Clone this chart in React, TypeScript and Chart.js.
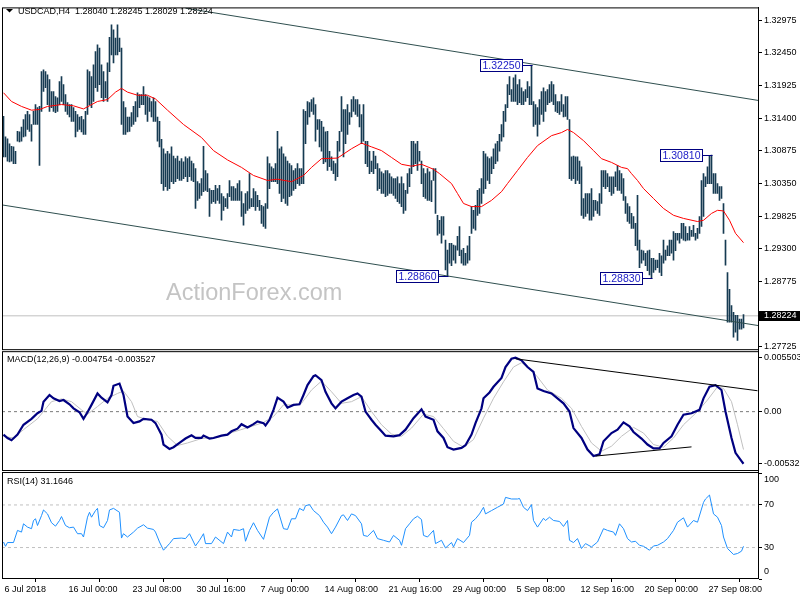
import React, { useEffect, useRef } from 'react';
import { Chart, registerables } from 'chart.js';

Chart.register(...registerables);

const FONT = '"Liberation Sans", Arial, sans-serif';

const symbolTitle = 'USDCAD,H4  1.28040 1.28245 1.28029 1.28224';
const macdTitle = 'MACD(12,26,9) -0.004754 -0.003527';
const rsiTitle = 'RSI(14) 31.1646';
const watermark = 'ActionForex.com';

// bar index of each time label (H4 bars)
const xTickIdx = [0, 32, 64, 96, 128, 160, 192, 224, 256, 288, 320, 352];
const xTickLabels = ['6 Jul 2018', '16 Jul 00:00', '23 Jul 08:00', '30 Jul 16:00', '7 Aug 00:00', '14 Aug 08:00', '21 Aug 16:00', '29 Aug 00:00', '5 Sep 08:00', '12 Sep 16:00', '20 Sep 00:00', '27 Sep 08:00'];

const priceTicks = [1.32975, 1.3245, 1.31925, 1.314, 1.30875, 1.3035, 1.29825, 1.293, 1.28775, 1.27725];
const macdTicks = [0.005503, 0, -0.005326];
const macdTickLabels = ['0.005503', '0.00', '-0.005326'];
const rsiTicks = [100, 70, 30, 0];

const highs = [
  1.3143, 1.3110, 1.3107, 1.3099, 1.3095, 1.3094, 1.3087, 1.3119, 1.3118, 1.3126,
  1.3138, 1.3146, 1.3151, 1.3146, 1.3130, 1.3151, 1.3162, 1.3157, 1.3159, 1.3215,
  1.3218, 1.3215, 1.3210, 1.3202, 1.3183, 1.3183, 1.3175, 1.3173, 1.3199, 1.3207,
  1.3194, 1.3178, 1.3165, 1.3162, 1.3162, 1.3157, 1.3151, 1.3146, 1.3142, 1.3143,
  1.3138, 1.3151, 1.3218, 1.3215, 1.3207, 1.3226, 1.3247, 1.3258, 1.3253, 1.3226,
  1.3215, 1.3199, 1.3229, 1.3270, 1.3290, 1.3282, 1.3269, 1.3290, 1.3269, 1.3253,
  1.3167, 1.3157, 1.3142, 1.3142, 1.3149, 1.3159, 1.3167, 1.3181, 1.3178, 1.3178,
  1.3191, 1.3178, 1.3175, 1.3173, 1.3167, 1.3173, 1.3167, 1.3142, 1.3135, 1.3106,
  1.3091, 1.3083, 1.3087, 1.3083, 1.3094, 1.3079, 1.3075, 1.3079, 1.3071, 1.3075,
  1.3070, 1.3078, 1.3075, 1.3078, 1.3071, 1.3067, 1.3059, 1.3038, 1.3035, 1.3043,
  1.3095, 1.3056, 1.3051, 1.3027, 1.3024, 1.3024, 1.3032, 1.3027, 1.3032, 1.3019,
  1.3014, 1.3011, 1.3019, 1.3040, 1.3030, 1.3030, 1.3027, 1.3035, 1.3040, 1.3022,
  1.3003, 1.3019, 1.3022, 1.3051, 1.3011, 1.3027, 1.3022, 1.3016, 1.3008, 1.3000,
  1.2998, 1.3003, 1.3078, 1.3067, 1.3062, 1.3059, 1.3067, 1.3119, 1.3091, 1.3094,
  1.3083, 1.3078, 1.3071, 1.3067, 1.3064, 1.3056, 1.3059, 1.3067, 1.3059, 1.3059,
  1.3154, 1.3151, 1.3167, 1.3165, 1.3170, 1.3173, 1.3162, 1.3138, 1.3138, 1.3135,
  1.3126, 1.3118, 1.3119, 1.3087, 1.3078, 1.3071, 1.3067, 1.3103, 1.3119, 1.3175,
  1.3154, 1.3154, 1.3162, 1.3149, 1.3170, 1.3175, 1.3170, 1.3170, 1.3162, 1.3146,
  1.3162, 1.3103, 1.3103, 1.3087, 1.3071, 1.3087, 1.3079, 1.3067, 1.3059, 1.3054,
  1.3051, 1.3056, 1.3056, 1.3051, 1.3046, 1.3043, 1.3043, 1.3046, 1.3035, 1.3046,
  1.3035, 1.3024, 1.3051, 1.3059, 1.3103, 1.3103, 1.3099, 1.3103, 1.3087, 1.3071,
  1.3059, 1.3051, 1.3059, 1.3054, 1.3040, 1.3059, 1.3059, 1.2984, 1.2976, 1.2982,
  1.2982, 1.2944, 1.2928, 1.2939, 1.2939, 1.2936, 1.2935, 1.2950, 1.2966, 1.2928,
  1.2931, 1.2923, 1.2935, 1.2950, 1.2998, 1.2992, 1.3000, 1.3024, 1.3027, 1.3043,
  1.3087, 1.3083, 1.3078, 1.3075, 1.3078, 1.3091, 1.3099, 1.3103, 1.3114, 1.3130,
  1.3151, 1.3162, 1.3194, 1.3207, 1.3186, 1.3205, 1.3210, 1.3194, 1.3202, 1.3189,
  1.3183, 1.3186, 1.3199, 1.3191, 1.3225, 1.3167, 1.3162, 1.3157, 1.3170, 1.3183,
  1.3189, 1.3183, 1.3186, 1.3194, 1.3199, 1.3194, 1.3178, 1.3167, 1.3167, 1.3178,
  1.3162, 1.3175, 1.3175, 1.3138, 1.3078, 1.3079, 1.3078, 1.3078, 1.3071, 1.3062,
  1.3011, 1.3019, 1.3019, 1.3019, 1.3027, 1.3008, 1.3008, 1.3006, 1.3019, 1.3056,
  1.3056, 1.3056, 1.3051, 1.3046, 1.3046, 1.3046, 1.3054, 1.3064, 1.3056, 1.3051,
  1.3043, 1.3014, 1.3003, 1.2998, 1.2987, 1.2982, 1.2971, 1.3016, 1.2944, 1.2928,
  1.2927, 1.2923, 1.2927, 1.2928, 1.2915, 1.2915, 1.2912, 1.2912, 1.2923, 1.2919,
  1.2944, 1.2928, 1.2935, 1.2944, 1.2944, 1.2958, 1.2955, 1.2955, 1.2955, 1.2971,
  1.2971, 1.2966, 1.2955, 1.2966, 1.2960, 1.2968, 1.2955, 1.2963, 1.2982, 1.3040,
  1.3051, 1.3046, 1.3062, 1.3079, 1.3081, 1.3051, 1.3051, 1.3035, 1.3030, 1.3030,
  1.3003, 1.2944, 1.2892, 1.2865, 1.2839, 1.2828, 1.2823, 1.2823, 1.2817, 1.2817, 1.28245,
];

const lows = [
  1.3078, 1.3078, 1.3071, 1.3070, 1.3071, 1.3067, 1.3067, 1.3103, 1.3102, 1.3103,
  1.3110, 1.3111, 1.3122, 1.3119, 1.3103, 1.3130, 1.3130, 1.3130, 1.3064, 1.3151,
  1.3183, 1.3189, 1.3162, 1.3151, 1.3157, 1.3151, 1.3149, 1.3151, 1.3162, 1.3167,
  1.3162, 1.3151, 1.3146, 1.3142, 1.3135, 1.3135, 1.3110, 1.3119, 1.3122, 1.3118,
  1.3114, 1.3114, 1.3146, 1.3162, 1.3157, 1.3167, 1.3189, 1.3183, 1.3194, 1.3173,
  1.3167, 1.3173, 1.3167, 1.3215, 1.3242, 1.3229, 1.3242, 1.3242, 1.3247, 1.3130,
  1.3114, 1.3114, 1.3118, 1.3119, 1.3127, 1.3130, 1.3135, 1.3142, 1.3157, 1.3162,
  1.3162, 1.3146, 1.3135, 1.3151, 1.3142, 1.3135, 1.3135, 1.3103, 1.3094, 1.3035,
  1.3024, 1.3030, 1.3024, 1.3027, 1.3038, 1.3035, 1.3038, 1.3043, 1.3040, 1.3040,
  1.3043, 1.3046, 1.3038, 1.3046, 1.3040, 1.3038, 1.2995, 1.3008, 1.3011, 1.3016,
  1.3022, 1.3024, 1.3022, 1.2982, 1.3003, 1.3006, 1.3003, 1.3008, 1.3003, 1.2976,
  1.2992, 1.2998, 1.2995, 1.3014, 1.3008, 1.3008, 1.3008, 1.3008, 1.3008, 1.2982,
  1.2968, 1.2987, 1.2992, 1.2995, 1.2998, 1.2998, 1.2992, 1.2998, 1.2992, 1.2971,
  1.2966, 1.2963, 1.2995, 1.3027, 1.3038, 1.3038, 1.3038, 1.3035, 1.3019, 1.3006,
  1.3011, 1.3003, 1.3000, 1.3014, 1.3016, 1.3024, 1.3027, 1.3035, 1.3032, 1.3035,
  1.3035, 1.3099, 1.3130, 1.3142, 1.3151, 1.3146, 1.3103, 1.3122, 1.3094, 1.3087,
  1.3067, 1.3070, 1.3056, 1.3062, 1.3056, 1.3051, 1.3040, 1.3046, 1.3087, 1.3119,
  1.3078, 1.3099, 1.3114, 1.3130, 1.3142, 1.3151, 1.3146, 1.3143, 1.3126, 1.3099,
  1.3103, 1.3067, 1.3062, 1.3051, 1.3054, 1.3051, 1.3059, 1.3024, 1.3027, 1.3019,
  1.3019, 1.3014, 1.3016, 1.3019, 1.3019, 1.3016, 1.3011, 1.3006, 1.3003, 1.2998,
  1.2987, 1.2992, 1.3019, 1.3030, 1.3051, 1.3062, 1.3067, 1.3056, 1.3071, 1.3035,
  1.3014, 1.3011, 1.3008, 1.3008, 1.3006, 1.3040, 1.2987, 1.2952, 1.2955, 1.2939,
  1.2952, 1.2896, 1.2886, 1.2907, 1.2903, 1.2912, 1.2907, 1.2928, 1.2919, 1.2907,
  1.2904, 1.2904, 1.2907, 1.2912, 1.2955, 1.2963, 1.2960, 1.2984, 1.2987, 1.3003,
  1.3019, 1.3027, 1.3040, 1.3035, 1.3051, 1.3059, 1.3067, 1.3071, 1.3087, 1.3103,
  1.3110, 1.3135, 1.3157, 1.3178, 1.3167, 1.3167, 1.3167, 1.3162, 1.3165, 1.3162,
  1.3162, 1.3167, 1.3173, 1.3162, 1.3162, 1.3127, 1.3130, 1.3111, 1.3130, 1.3146,
  1.3135, 1.3151, 1.3162, 1.3165, 1.3167, 1.3162, 1.3151, 1.3149, 1.3146, 1.3151,
  1.3142, 1.3143, 1.3138, 1.3043, 1.3040, 1.3043, 1.3035, 1.3040, 1.3035, 1.2984,
  1.2979, 1.2982, 1.2987, 1.2976, 1.2976, 1.2982, 1.2992, 1.2987, 1.2984, 1.3003,
  1.3030, 1.3027, 1.3030, 1.3022, 1.3016, 1.3019, 1.3030, 1.3024, 1.3024, 1.3019,
  1.3008, 1.2987, 1.2974, 1.2971, 1.2963, 1.2963, 1.2935, 1.2928, 1.2900, 1.2907,
  1.2912, 1.2903, 1.2895, 1.2888, 1.2883, 1.2892, 1.2896, 1.2900, 1.2892, 1.2887,
  1.2907, 1.2912, 1.2919, 1.2919, 1.2923, 1.2912, 1.2927, 1.2944, 1.2939, 1.2947,
  1.2944, 1.2943, 1.2944, 1.2944, 1.2950, 1.2950, 1.2944, 1.2947, 1.2955, 1.2966,
  1.2982, 1.3030, 1.3035, 1.3035, 1.3035, 1.3019, 1.3019, 1.3019, 1.3008, 1.3011,
  1.2955, 1.2904, 1.2812, 1.2812, 1.2812, 1.2788, 1.2796, 1.2783, 1.2801, 1.2801, 1.28029,
];

const lastClose = 1.28224;

// moving average (red), [bar index, price]
const ma = [
  [0, 1.3181], [4, 1.3167], [9, 1.3159], [14, 1.3153], [18, 1.3154], [22, 1.3159], [29, 1.3162], [35, 1.3160],
  [40, 1.3155], [47, 1.3167], [52, 1.3170], [56, 1.3182], [59, 1.3188], [62, 1.3182], [67, 1.3177], [72, 1.3177],
  [76, 1.3171], [82, 1.3153], [90, 1.3130], [99, 1.3109], [105, 1.3088], [112, 1.3073], [119, 1.3061], [125, 1.3048],
  [132, 1.3040], [137, 1.3042], [144, 1.3038], [150, 1.3048], [154, 1.3061], [159, 1.3075], [167, 1.3076], [174, 1.3091],
  [179, 1.3100], [184, 1.3094], [189, 1.3088], [194, 1.3077], [199, 1.3066], [204, 1.3063], [209, 1.3066], [215, 1.3058],
  [218, 1.3051], [224, 1.3035], [227, 1.3019], [230, 1.3003], [234, 1.2998], [239, 1.2998], [244, 1.3008], [249, 1.3022],
  [252, 1.3035], [257, 1.3056], [262, 1.3077], [267, 1.3096], [274, 1.3112], [279, 1.3117], [282, 1.3122], [285, 1.3117],
  [290, 1.3104], [295, 1.3088], [299, 1.3075], [304, 1.3069], [309, 1.3061], [312, 1.3059], [314, 1.3051], [317, 1.3040],
  [320, 1.3027], [325, 1.3011], [330, 1.2995], [335, 1.2984], [340, 1.2979], [347, 1.2974], [350, 1.2976], [354, 1.2987],
  [357, 1.2992], [360, 1.2991], [363, 1.2976], [366, 1.2955], [370, 1.2940],
];

const upperChannel = [[91, 1.33169], [377.25, 1.31687]];
const lowerChannel = [[-0.75, 1.30007], [377.25, 1.28068]];

const swingLabels = [
  { i: 264, price: 1.3225, text: '1.32250' },
  { i: 222, price: 1.2886, text: '1.28860' },
  { i: 324, price: 1.2883, text: '1.28830' },
  { i: 354, price: 1.3081, text: '1.30810' },
];

const macdLine = [
  [0, -0.00235], [2, -0.00269], [4, -0.00292], [7, -0.00235], [10, -0.00134], [14, -0.00073], [17, -0.00016], [19, 0.00008],
  [20, 0.00102], [23, 0.0017], [25, 0.00136], [28, 0.00109], [30, 0.00119], [33, 0.00075], [35, 0.00034], [38, -0.00006],
  [40, -0.00073], [42, -0.00006], [44, 0.00069], [47, 0.00186], [49, 0.00143], [52, 0.00095], [54, 0.0017], [55, 0.00264],
  [58, 0.00287], [60, 0.0017], [62, -0.0005], [65, -0.00117], [68, -0.001], [70, -0.00073], [74, -0.00083], [76, -0.00117],
  [79, -0.00235], [80, -0.00336], [83, -0.00381], [85, -0.00363], [89, -0.00303], [91, -0.00275], [94, -0.00242], [96, -0.00269],
  [99, -0.00269], [100, -0.00245], [103, -0.00275], [105, -0.00269], [109, -0.00245], [112, -0.00235], [114, -0.00201], [117, -0.00174],
  [119, -0.00128], [122, -0.00161], [125, -0.00128], [127, -0.001], [130, -0.00117], [131, -0.00141], [133, -0.00083], [135, 0.00018],
  [137, 0.00143], [140, 0.00102], [142, 0.00041], [145, 0.00069], [148, 0.00075], [150, 0.0017], [152, 0.00271], [155, 0.00362],
  [156, 0.00372], [159, 0.00322], [161, 0.00203], [164, 0.00085], [166, 0.00034], [169, 0.00102], [172, 0.00136], [175, 0.0017],
  [177, 0.00186], [179, 0.00153], [181, 0.00001], [184, -0.00083], [186, -0.00134], [189, -0.00201], [191, -0.00245], [195, -0.00252],
  [198, -0.0024], [201, -0.00184], [205, -0.00067], [209, 0.00024], [211, -0.0005], [215, -0.00083], [217, -0.00201], [220, -0.00269],
  [222, -0.00363], [225, -0.00387], [229, -0.0037], [231, -0.00343], [234, -0.00235], [236, -0.00117], [239, 0.00034], [240, 0.00136],
  [243, 0.00196], [245, 0.00254], [249, 0.00345], [251, 0.00456], [254, 0.0054], [256, 0.005503], [259, 0.00524], [262, 0.00456],
  [265, 0.00406], [267, 0.00237], [270, 0.0021], [274, 0.00186], [277, 0.00136], [280, 0.00085], [283, 0.00001], [285, -0.00168],
  [289, -0.00269], [292, -0.00387], [295, -0.00454], [298, -0.00437], [300, -0.00303], [304, -0.00219], [307, -0.00184], [310, -0.0011],
  [313, -0.00151], [315, -0.00208], [319, -0.00275], [322, -0.00336], [325, -0.00376], [328, -0.00376], [330, -0.0032], [334, -0.00252],
  [337, -0.00134], [340, -0.00032], [344, -0.00016], [348, 0.00018], [350, 0.00136], [353, 0.00254], [356, 0.00271], [359, 0.00221],
  [361, 0.00001], [364, -0.00269], [366, -0.00421], [369, -0.00505], [370, -0.005326],
];

const signalLine = [
  [0, -0.00252], [5, -0.00269], [10, -0.00184], [17, -0.00073], [24, 0.00102], [29, 0.0013], [34, 0.00102], [39, 0.00018],
  [42, -0.00026], [47, 0.00052], [52, 0.00136], [57, 0.00186], [60, 0.0021], [64, 0.00102], [67, -0.0005], [72, -0.00083],
  [77, -0.001], [82, -0.00252], [87, -0.00346], [92, -0.0032], [99, -0.00275], [107, -0.00262], [115, -0.00208], [124, -0.00151],
  [130, -0.0011], [135, -0.0005], [140, 0.00069], [145, 0.00069], [149, 0.00085], [154, 0.00221], [159, 0.00312], [164, 0.00203],
  [169, 0.00085], [174, 0.00102], [179, 0.00153], [184, 0.00001], [189, -0.00134], [194, -0.00229], [199, -0.00252], [204, -0.00168],
  [210, -0.00026], [215, -0.0005], [220, -0.00174], [225, -0.00303], [230, -0.00363], [235, -0.00285], [240, -0.00067], [245, 0.00136],
  [250, 0.00305], [255, 0.00456], [259, 0.005], [263, 0.00439], [267, 0.00355], [272, 0.00221], [279, 0.00136], [284, 0.00034],
  [289, -0.00151], [294, -0.0032], [299, -0.00404], [304, -0.00353], [309, -0.00252], [315, -0.00161], [320, -0.00219], [325, -0.00336],
  [330, -0.00363], [335, -0.00269], [340, -0.00134], [347, 0.00001], [352, 0.00119], [357, 0.00254], [360, 0.00237], [364, 0.00102],
  [367, -0.00134], [370, -0.00387],
];

const macdTrendUpper = [[256, 0.0054], [377, 0.002135]];
const macdTrendLower = [[296, -0.00454], [344, -0.0036]];
const macdLevels = [0];

const rsi = [
  [0, 35.2], [1, 31.2], [2, 34.7], [5, 34.7], [7, 46.1], [9, 44.5], [10, 52.3], [12, 49.2], [14, 47.7], [15, 55.4],
  [16, 57.0], [17, 50.7], [19, 60.0], [20, 65.3], [22, 61.6], [24, 53.3], [26, 50.1], [28, 55.4], [29, 59.1], [31, 50.7],
  [33, 48.6], [35, 49.2], [37, 43.0], [39, 43.0], [40, 39.9], [42, 58.5], [43, 63.1], [44, 58.5], [46, 64.7], [47, 66.8],
  [48, 50.7], [50, 48.6], [52, 55.4], [53, 65.3], [55, 66.8], [58, 63.1], [59, 38.9], [60, 43.0], [62, 39.9], [65, 44.5],
  [67, 48.2], [70, 51.4], [72, 48.2], [75, 47.0], [76, 44.5], [78, 35.2], [80, 27.5], [83, 33.7], [85, 38.4], [89, 38.9],
  [91, 38.4], [93, 43.0], [96, 31.5], [98, 36.8], [100, 43.0], [101, 33.7], [104, 33.7], [106, 39.9], [110, 33.7], [112, 44.5],
  [114, 39.9], [115, 47.0], [118, 46.1], [120, 47.7], [121, 35.9], [123, 46.1], [125, 53.3], [127, 46.1], [130, 37.7], [133, 58.5],
  [135, 63.1], [137, 66.3], [140, 47.7], [142, 47.0], [144, 57.0], [146, 57.0], [148, 66.8], [150, 64.7], [151, 69.3], [153, 70.3],
  [155, 64.7], [158, 60.0], [160, 53.8], [162, 49.2], [164, 43.0], [166, 49.2], [169, 60.0], [170, 60.7], [172, 55.4], [174, 61.6],
  [176, 60.0], [179, 52.3], [180, 41.4], [182, 40.5], [185, 46.1], [187, 38.4], [190, 36.8], [193, 35.2], [195, 41.4], [198, 36.8],
  [199, 32.1], [201, 47.7], [203, 52.3], [205, 57.0], [207, 59.4], [209, 56.3], [210, 41.4], [212, 39.9], [215, 46.1], [216, 33.7],
  [219, 36.8], [221, 29.6], [224, 34.7], [225, 30.6], [227, 38.4], [230, 34.7], [233, 41.4], [234, 53.8], [236, 57.0], [238, 61.6],
  [240, 67.8], [241, 61.6], [244, 64.7], [247, 67.8], [250, 70.9], [251, 77.1], [254, 75.6], [257, 75.6], [258, 76.1], [260, 67.8],
  [262, 64.7], [264, 70.3], [265, 55.4], [267, 49.2], [270, 57.5], [271, 55.4], [273, 58.5], [275, 55.4], [278, 54.5], [280, 49.8],
  [282, 55.4], [283, 36.8], [285, 34.7], [287, 38.4], [289, 29.1], [291, 33.7], [294, 30.6], [297, 35.2], [300, 47.7], [302, 46.1],
  [305, 44.5], [306, 41.4], [308, 52.3], [310, 47.7], [312, 38.4], [314, 35.2], [316, 35.9], [318, 32.1], [320, 31.2], [323, 27.5],
  [325, 31.5], [327, 32.1], [330, 35.2], [332, 38.4], [335, 46.1], [337, 53.8], [340, 57.9], [342, 49.2], [345, 55.4], [347, 53.8],
  [350, 72.4], [351, 75.6], [353, 79.3], [355, 61.6], [357, 58.5], [359, 50.7], [360, 39.9], [362, 29.1], [365, 23.5], [367, 24.4],
  [369, 26.6], [370, 31.16],
];
const rsiLevels = [70, 30];

// view window (bar index range) and pane ranges
const X_MIN = -0.75;
const X_MAX = 377.25;
const PRICE_RANGE = [1.27688, 1.33182];
const MACD_RANGE = [-0.005964, 0.006383];
const RSI_RANGE = [1.4, 102.8];

const pts = (arr: number[][]) => arr.map(([x, y]) => ({ x, y }));
const hline = (v: number) => [{ x: X_MIN, y: v }, { x: X_MAX, y: v }];

const mtPlugin = {
  id: 'mtDecor',
  beforeDatasetsDraw(chart: any) {
    const ctx = chart.ctx;
    ctx.save();
    ctx.font = `23.5px ${FONT}`;
    ctx.fillStyle = '#c4c4c4';
    ctx.textAlign = 'left';
    ctx.textBaseline = 'alphabetic';
    ctx.fillText(watermark, 166, 300);
    ctx.restore();
  },
  afterDatasetsDraw(chart: any) {
    const ctx = chart.ctx;
    const xs = chart.scales.x;
    const ys = chart.scales.y;
    ctx.save();
    ctx.font = `10.5px ${FONT}`;
    swingLabels.forEach((l) => {
      const bx = Math.round(xs.getPixelForValue(l.i));
      const cy = Math.round(ys.getPixelForValue(l.price));
      const boxR = bx - 10;
      const boxL = boxR - 42;
      const boxT = cy - 6;
      ctx.fillStyle = '#ffffff';
      ctx.fillRect(boxL, boxT, 42, 12);
      ctx.strokeStyle = '#000080';
      ctx.lineWidth = 1;
      ctx.strokeRect(boxL + 0.5, boxT + 0.5, 42, 12);
      ctx.beginPath();
      ctx.moveTo(boxR + 0.5, cy + 0.5);
      ctx.lineTo(bx + 0.5, cy + 0.5);
      ctx.stroke();
      ctx.fillStyle = '#2020c8';
      ctx.textAlign = 'center';
      ctx.textBaseline = 'middle';
      ctx.fillText(l.text, boxL + 21.5, cy + 1);
    });
    ctx.restore();
  },
  afterDraw(chart: any) {
    const ctx = chart.ctx;
    const { left: L, right: R } = chart.chartArea;
    const ys = chart.scales.y;
    const ym = chart.scales.yMacd;
    const yr = chart.scales.yRsi;
    ctx.save();
    // pane frames
    ctx.strokeStyle = '#000000';
    ctx.lineWidth = 1;
    [ys, ym, yr].forEach((s: any, k: number) => {
      const top = s.top + (k > 0 ? 2 : 0);
      ctx.strokeRect(L + 0.5, top + 0.5, R - L, s.bottom - top);
    });
    // titles
    ctx.fillStyle = '#000000';
    ctx.beginPath();
    ctx.moveTo(6, 9);
    ctx.lineTo(13, 9);
    ctx.lineTo(9.5, 12.5);
    ctx.closePath();
    ctx.fill();
    ctx.font = `9px ${FONT}`;
    ctx.textAlign = 'left';
    ctx.textBaseline = 'alphabetic';
    ctx.fillText(symbolTitle, 18, 14);
    ctx.fillText(macdTitle, 7, 362);
    ctx.fillText(rsiTitle, 7, 484);
    // RSI axis labels (MT4 keeps the end labels inside the pane)
    ctx.textBaseline = 'middle';
    rsiTicks.forEach((v) => {
      let y = yr.getPixelForValue(v);
      y = Math.max(yr.top + 9, Math.min(yr.bottom - 6, y));
      ctx.fillText(String(v), R + 6, y);
    });
    // current price box
    const cy = Math.round(ys.getPixelForValue(lastClose));
    ctx.fillRect(R, cy - 5, chart.width - R, 10);
    ctx.fillStyle = '#ffffff';
    ctx.fillText(lastClose.toFixed(5), R + 6, cy);
    ctx.restore();
  },
};

const yAxisBase = (weight: number, range: number[]) => ({
  type: 'linear' as const,
  position: 'right' as const,
  stack: 'panes',
  stackWeight: weight,
  min: range[0],
  max: range[1],
  afterFit: (s: any) => {
    s.width = 42;
  },
  grid: { drawOnChartArea: false, drawTicks: true, tickLength: 4, color: '#000000' },
  border: { display: true, color: '#000000', width: 1 },
});

export default function App() {
  const ref = useRef<HTMLCanvasElement | null>(null);

  useEffect(() => {
    if (!ref.current) return;
    const tickFont = { family: FONT, size: 9 };
    const lineDs = (data: any[], color: string, width: number, axis: string, order: number, extra: any = {}) => ({
      type: 'line' as const,
      data,
      borderColor: color,
      borderWidth: width,
      pointRadius: 0,
      tension: 0,
      fill: false,
      yAxisID: axis,
      order,
      ...extra,
    });

    const chart = new Chart(ref.current, {
      type: 'bar',
      data: {
        datasets: [
          lineDs(hline(lastClose), '#c0c0c0', 1, 'y', 20),
          {
            type: 'bar',
            data: highs.map((h, i) => ({ x: i, y: [lows[i], h] })),
            backgroundColor: '#163b52',
            borderWidth: 0,
            barThickness: 1,
            grouped: false,
            yAxisID: 'y',
            order: 10,
          } as any,
          lineDs(pts(ma), '#ff0000', 1, 'y', 8),
          lineDs(pts(upperChannel), '#2f4f4f', 1, 'y', 7),
          lineDs(pts(lowerChannel), '#2f4f4f', 1, 'y', 7),
          ...macdLevels.map((v) => lineDs(hline(v), '#7a7a7a', 1, 'yMacd', 15, { borderDash: [3, 3] })),
          lineDs(pts(signalLine), '#c0c0c0', 1, 'yMacd', 6),
          lineDs(pts(macdLine), '#000080', 2.2, 'yMacd', 5),
          lineDs(pts(macdTrendUpper), '#000000', 1, 'yMacd', 4),
          lineDs(pts(macdTrendLower), '#000000', 1, 'yMacd', 4),
          ...rsiLevels.map((v) => lineDs(hline(v), '#c0c0c0', 1, 'yRsi', 15, { borderDash: [3, 3] })),
          lineDs(pts(rsi), '#1e90ff', 1, 'yRsi', 3),
        ] as any,
      },
      options: {
        responsive: false,
        animation: false,
        devicePixelRatio: 1,
        events: [],
        layout: { padding: { left: 2, top: 2, right: 0, bottom: 0 } },
        plugins: { legend: { display: false }, tooltip: { enabled: false } },
        scales: {
          x: {
            type: 'linear',
            position: 'bottom',
            min: X_MIN,
            max: X_MAX,
            offset: false,
            afterFit: (s: any) => {
              s.height = 22;
            },
            afterBuildTicks: (s: any) => {
              s.ticks = xTickIdx.map((v) => ({ value: v }));
            },
            ticks: {
              autoSkip: false,
              maxRotation: 0,
              minRotation: 0,
              align: 'start',
              labelOffset: 1,
              padding: 2,
              color: '#000000',
              font: tickFont,
              callback: (v: any) => {
                const k = xTickIdx.indexOf(Number(v));
                return k >= 0 ? xTickLabels[k] : '';
              },
            },
            grid: { drawOnChartArea: false, drawTicks: true, tickLength: 4, color: '#000000' },
            border: { display: true, color: '#000000' },
          },
          y: {
            ...yAxisBase(345, PRICE_RANGE),
            afterBuildTicks: (s: any) => {
              s.ticks = priceTicks.map((v) => ({ value: v }));
            },
            ticks: {
              autoSkip: false,
              padding: 2,
              color: '#000000',
              font: tickFont,
              callback: (v: any) => Number(v).toFixed(5),
            },
          },
          yMacd: {
            ...yAxisBase(122, MACD_RANGE),
            afterBuildTicks: (s: any) => {
              s.ticks = macdTicks.map((v) => ({ value: v }));
            },
            ticks: {
              autoSkip: false,
              padding: 2,
              color: '#000000',
              font: tickFont,
              callback: (v: any) => {
                const k = macdTicks.indexOf(Number(v));
                return k >= 0 ? macdTickLabels[k] : '';
              },
            },
          },
          yRsi: {
            ...yAxisBase(109, RSI_RANGE),
            afterBuildTicks: (s: any) => {
              s.ticks = rsiTicks.map((v) => ({ value: v }));
            },
            ticks: { display: false, autoSkip: false },
          },
        } as any,
      },
      plugins: [mtPlugin],
    });
    return () => chart.destroy();
  }, []);

  return (
    <div style={{ position: 'fixed', left: 0, top: 0, width: 800, height: 600, background: '#ffffff' }}>
      <canvas ref={ref} width={800} height={600} style={{ display: 'block', width: 800, height: 600 }} />
    </div>
  );
}
